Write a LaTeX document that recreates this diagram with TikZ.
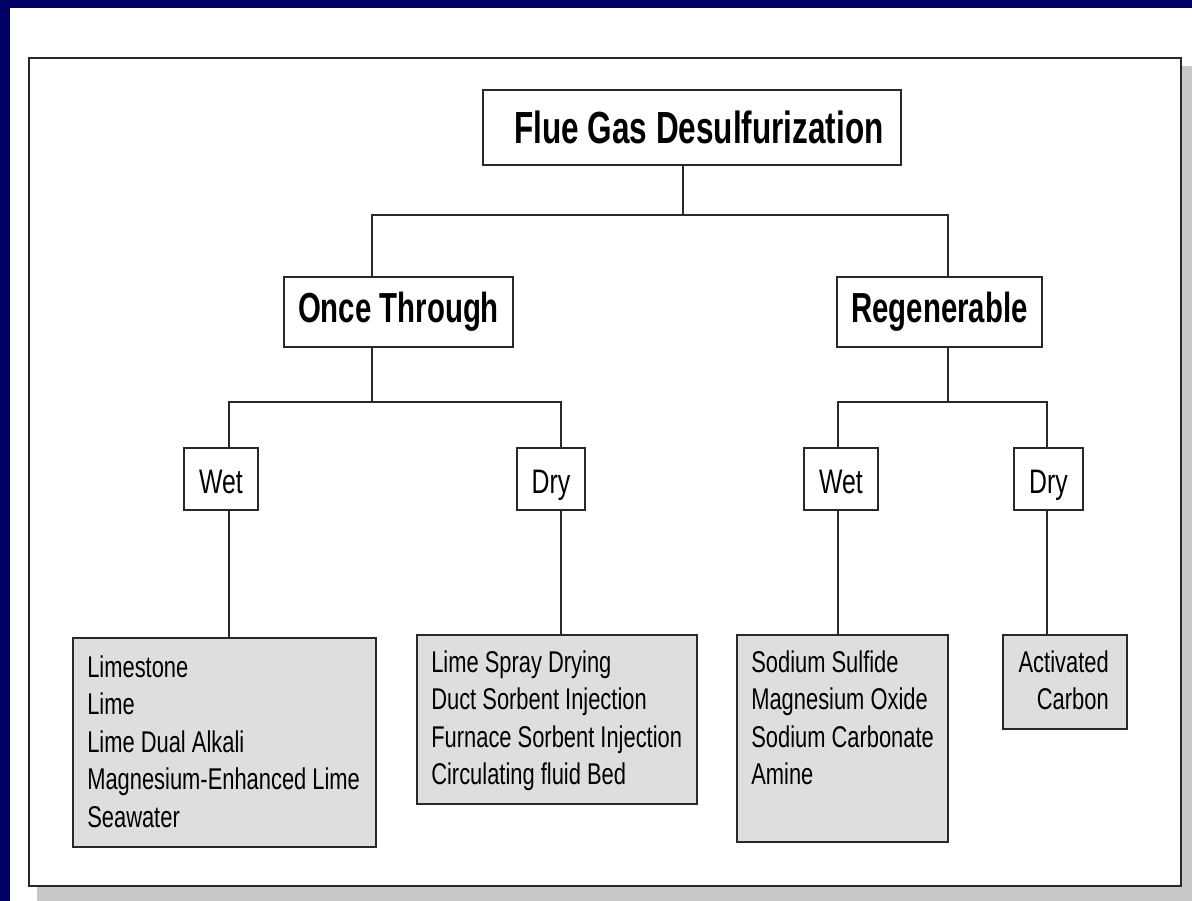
\documentclass[tikz,border=0pt]{standalone}
\usepackage{fontspec}
\setmainfont{Liberation Sans}
\newfontfamily\boxfont{Liberation Sans}[FakeStretch=0.73]
\newfontfamily\headfont{Liberation Sans}[FakeStretch=0.70]
\usepackage{tikz}
\definecolor{slidenavy}{RGB}{0,0,102}
\definecolor{listgray}{RGB}{222,222,222}
\definecolor{shadowgray}{RGB}{200,200,200}
\definecolor{linegray}{RGB}{40,40,40}
\tikzset{
  headbox/.style={draw=linegray, line width=1.8pt, fill=white, inner sep=0pt,
    font=\headfont\bfseries\fontsize{42}{50}\selectfont},
  kindbox/.style={draw=linegray, line width=1.6pt, fill=white, inner sep=0pt,
    text height=28pt, text depth=0pt, font=\boxfont\fontsize{34}{40}\selectfont},
  listbox/.style={draw=linegray, line width=1.8pt, fill=listgray, inner sep=0pt},
  listtext/.style={inner sep=0pt, align=left, anchor=north west,
    font=\boxfont\fontsize{30}{37.5}\selectfont},
  branch/.style={draw=linegray, line width=1.5pt},
}

\begin{document}
\begin{tikzpicture}[x=1pt,y=-1pt]
        \fill [slidenavy] (0,0) rectangle (1192,901);
        \useasboundingbox (0,0) rectangle (1192,901);
        \fill [white] (10,8) rectangle (1192,901);
        \fill [shadowgray] (37,66) rectangle (1192,901);
        \draw [linegray, line width=2.2pt, fill=white] (29,58) rectangle (1181,886);
        \node [headbox, minimum width=418pt, minimum height=75pt,
          font=\headfont\bfseries\fontsize{45}{52}\selectfont] (fgd) at (692,127.5) {\hspace*{14pt}Flue Gas Desulfurization};
        \node [headbox, minimum width=229pt, minimum height=70pt] (ot) at (398.5,312) {Once Through};
        \node [headbox, minimum width=205pt, minimum height=70pt] (rg) at (939.5,312) {Regenerable};
        \node [kindbox, minimum width=74pt, minimum height=62pt] (otwet) at (221,479) {Wet};
        \node [kindbox, minimum width=68pt, minimum height=62pt] (otdry) at (551,479) {Dry};
        \node [kindbox, minimum width=74pt, minimum height=62pt] (rgwet) at (841,479) {Wet};
        \node [kindbox, minimum width=69pt, minimum height=62pt] (rgdry) at (1048.5,479) {Dry};
        \node [listbox, minimum width=303pt, minimum height=209pt] (otwetlist) at (224.5,742.5) {};
        \node [listbox, minimum width=280pt, minimum height=169pt] (otdrylist) at (557,719.5) {};
        \node [listbox, minimum width=211pt, minimum height=207pt] (rgwetlist) at (842.5,738.5) {};
        \node [listbox, minimum width=124pt, minimum height=94pt] (rgdrylist) at (1065,682) {};
        \node [listtext] (otwettext) at ([xshift=15pt,yshift=-18pt]otwetlist.north west)
          {Limestone\\Lime\\Lime Dual Alkali\\Magnesium-Enhanced Lime\\Seawater};
        \node [listtext] (otdrytext) at ([xshift=15pt,yshift=-16pt]otdrylist.north west)
          {Lime Spray Drying\\Duct Sorbent Injection\\Furnace Sorbent Injection\\Circulating fluid Bed};
        \node [listtext] (rgwettext) at ([xshift=15pt,yshift=-16pt]rgwetlist.north west)
          {Sodium Sulfide\\Magnesium Oxide\\Sodium Carbonate\\Amine};
        \node [listtext, align=right, anchor=north east] (rgdrytext) at ([xshift=-19pt,yshift=-16pt]rgdrylist.north east)
          {Activated\\Carbon};
        \coordinate (j0) at (683,215);
        \coordinate (j1) at (372,402);
        \coordinate (j2) at (948,402);
        \coordinate (k1) at (229,402);
        \coordinate (k2) at (561,402);
        \coordinate (k3) at (838,402);
        \coordinate (k4) at (1047,402);
        \draw [branch] (fgd.south -| j0) -- (j0);
        \draw [branch] (ot.north -| j1) |- (j0) -| (rg.north -| j2);
        \draw [branch] (ot.south -| j1) -- (j1);
        \draw [branch] (rg.south -| j2) -- (j2);
        \draw [branch] (k1 |- otwet.north) -- (k1) -- (k2) -- (k2 |- otdry.north);
        \draw [branch] (k3 |- rgwet.north) -- (k3) -- (k4) -- (k4 |- rgdry.north);
        \draw [branch] (k1 |- otwet.south) -- (k1 |- otwetlist.north);
        \draw [branch] (k2 |- otdry.south) -- (k2 |- otdrylist.north);
        \draw [branch] (k3 |- rgwet.south) -- (k3 |- rgwetlist.north);
        \draw [branch] (k4 |- rgdry.south) -- (k4 |- rgdrylist.north);
\end{tikzpicture}
\end{document}
